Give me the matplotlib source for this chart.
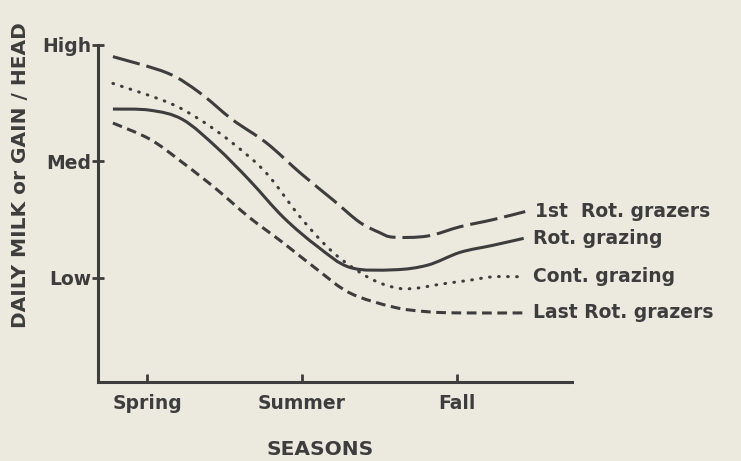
import matplotlib
matplotlib.use('Agg')
import matplotlib.pyplot as plt
from matplotlib.path import Path
from matplotlib.patches import PathPatch

# seasons on x: Spring=1, Summer=2, Fall=3 ; levels on y: Low=1, Med=2, High=3
seasonTicks = [1, 2, 3]
seasonLabels = ['Spring', 'Summer', 'Fall']
levelTicks = [1, 2, 3]
levelLabels = ['Low', 'Med', 'High']

firstRotX = [0.78, 1.13, 1.34, 1.55, 1.77, 1.99, 2.20, 2.37, 2.50, 2.59, 2.81, 3.02, 3.23, 3.44]
firstRotY = [2.90, 2.76, 2.59, 2.36, 2.16, 1.90, 1.67, 1.48, 1.39, 1.35, 1.36, 1.44, 1.50, 1.57]

rotX = [0.78, 1.02, 1.23, 1.45, 1.66, 1.88, 2.10, 2.31, 2.59, 2.81, 3.02, 3.23, 3.43]
rotY = [2.45, 2.44, 2.36, 2.12, 1.84, 1.52, 1.27, 1.09, 1.07, 1.11, 1.22, 1.28, 1.34]

contX = [0.78, 1.13, 1.34, 1.55, 1.77, 1.99, 2.20, 2.42, 2.59, 2.72, 2.91, 3.08, 3.23, 3.43]
contY = [2.67, 2.51, 2.36, 2.16, 1.90, 1.52, 1.22, 1.01, 0.92, 0.91, 0.95, 0.98, 1.01, 1.01]

lastRotX = [0.78, 1.02, 1.23, 1.45, 1.66, 1.88, 2.10, 2.31, 2.59, 2.81, 3.02, 3.43]
lastRotY = [2.33, 2.19, 1.99, 1.76, 1.52, 1.30, 1.07, 0.87, 0.75, 0.71, 0.70, 0.70]

seriesLabels = ['1st  Rot. grazers', 'Rot. grazing', 'Cont. grazing', 'Last Rot. grazers']

bg = '#eceadf'
ink = '#3d3d3d'


def smoothPath(xs, ys):
    # catmull-rom through the read points, drawn as cubic bezier segments
    pts = list(zip(xs, ys))
    verts = [pts[0]]
    codes = [Path.MOVETO]
    n = len(pts)
    for i in range(n - 1):
        p0 = pts[i - 1] if i > 0 else pts[i]
        p1 = pts[i]
        p2 = pts[i + 1]
        p3 = pts[i + 2] if i + 2 < n else pts[i + 1]
        c1 = (p1[0] + (p2[0] - p0[0]) / 6, p1[1] + (p2[1] - p0[1]) / 6)
        c2 = (p2[0] - (p3[0] - p1[0]) / 6, p2[1] - (p3[1] - p1[1]) / 6)
        verts += [c1, c2, p2]
        codes += [Path.CURVE4] * 3
    return Path(verts, codes)


plt.rcParams['lines.scale_dashes'] = False
plt.rcParams['font.family'] = 'DejaVu Sans'

fig = plt.figure(figsize=(7.41, 4.61), dpi=100)
fig.patch.set_facecolor(bg)
ax = fig.add_axes([0.1323, 0.1714, 0.6397, 0.731])
ax.set_facecolor(bg)

lw = 2.2
styles = [
    dict(linestyle=(0, (20, 5)), capstyle='butt'),
    dict(linestyle='-', capstyle='butt'),
    dict(linestyle=(0, (0.5, 6)), capstyle='round'),
    dict(linestyle=(0, (7, 4)), capstyle='butt'),
]
allX = [firstRotX, rotX, contX, lastRotX]
allY = [firstRotY, rotY, contY, lastRotY]
for xs, ys, st in zip(allX, allY, styles):
    patch = PathPatch(smoothPath(xs, ys), facecolor='none', edgecolor=ink, lw=lw,
                      linestyle=st['linestyle'], capstyle=st['capstyle'])
    ax.add_patch(patch)

# labels at line ends
for xs, ys, lab in zip(allX, allY, seriesLabels):
    ax.annotate(lab, xy=(xs[-1], ys[-1]), xytext=(7, 0), textcoords='offset points',
                va='center', ha='left', fontsize=13.5, fontweight='bold',
                color=ink, annotation_clip=False)

ax.set_xlim(0.684, 3.742)
ax.set_ylim(0.107, 3.0)

for side in ['top', 'right']:
    ax.spines[side].set_visible(False)
for side in ['left', 'bottom']:
    ax.spines[side].set_linewidth(2.2)
    ax.spines[side].set_color(ink)

ax.set_xticks(seasonTicks)
ax.set_xticklabels(seasonLabels)
ax.set_yticks(levelTicks)
ax.set_yticklabels(levelLabels)
ax.tick_params(axis='x', direction='in', length=6, width=2, color=ink, pad=9,
               labelsize=13.5, labelcolor=ink)
ax.tick_params(axis='y', direction='inout', length=8, width=2, color=ink, pad=1,
               labelsize=13.5, labelcolor=ink)
for t in ax.get_xticklabels() + ax.get_yticklabels():
    t.set_fontweight('bold')

fig.text(0.027, 0.62, 'DAILY MILK or GAIN / HEAD', rotation=90, ha='center', va='center',
         fontsize=14.5, fontweight='bold', color=ink)
fig.text(0.432, 0.026, 'SEASONS', ha='center', va='center',
         fontsize=14.5, fontweight='bold', color=ink)

fig.savefig('out.png', dpi=100, facecolor=bg)
